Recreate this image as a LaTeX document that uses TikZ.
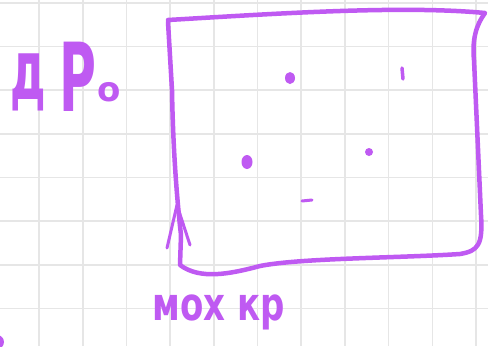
\documentclass[tikz,border=0pt]{standalone}
\usepackage{fontspec}
\newfontfamily\handfont{DejaVu Sans}
\usetikzlibrary{positioning}
\usepackage{xcolor}
\definecolor{InkPurple}{HTML}{BF5AF2}
\definecolor{GridGrey}{HTML}{E6E6E6}
\tikzset{
  gridline/.style={draw=GridGrey, line width=1.6pt},
  ink/.style={draw=InkPurple, line width=4.5pt, line cap=round, line join=round},
  thinink/.style={draw=InkPurple, line width=3pt, line cap=round, line join=round},
  blot/.style={fill=InkPurple, draw=none},
  handtxt/.style={text=InkPurple, inner sep=0pt, font=\handfont\bfseries},
}
\newcommand{\inksize}[1]{\fontsize{#1}{#1}\selectfont}

\begin{document}
\begin{tikzpicture}[x=1pt, y=-1pt]
    \fill[white] (0,0) rectangle (488,346);
    \useasboundingbox (0,0) rectangle (488,346);
    % squared paper
    \foreach \i in {0,...,10} \draw[gridline] ({39+43.7*\i},0) -- ({39+43.7*\i},346);
    \foreach \j in {0,...,7} \draw[gridline] (0,{2.7+43.7*\j}) -- (488,{2.7+43.7*\j});

    % the box
    \draw[ink] (168,20) .. controls (270,14) and (400,5) .. (485,13)
      .. controls (476,25) and (472,40) .. (474,60) -- (481,215)
      .. controls (483,245) and (478,251) .. (460,254)
      .. controls (400,258) and (300,258) .. (260,266)
      .. controls (230,274) and (200,280) .. (180,265)
      -- (181,235) .. controls (177,200) and (173,150) .. (172,90) -- (168,22);
    \draw[thinink] (167,248) -- (177,205) -- (190,245);

    % particles
    \fill[blot] (290,78) ellipse (5 and 6);
    \draw[thinink, line width=3.5pt] (402,68) -- (403,79);
    \fill[blot] (247,162) ellipse (5.5 and 7);
    \fill[blot] (369,152) circle (4);
    \draw[thinink] (302,201) -- (312,200);
    \fill[blot] (-3,342) circle (7);

    % words
    \node[handtxt, anchor=base west] (core) at (10,101)
      {\raisebox{2pt}{\scalebox{1}[1.9]{\inksize{44}д}}\hspace{14pt}\raisebox{-10pt}{\scalebox{0.9}[1.7]{\inksize{56}Р}}\hspace{1pt}{\inksize{34}о}};
    \node[handtxt, font=\handfont\bfseries\inksize{34}] (lattice) at (219,312) {\scalebox{1}[1.35]{мох кр}};
\end{tikzpicture}
\end{document}
